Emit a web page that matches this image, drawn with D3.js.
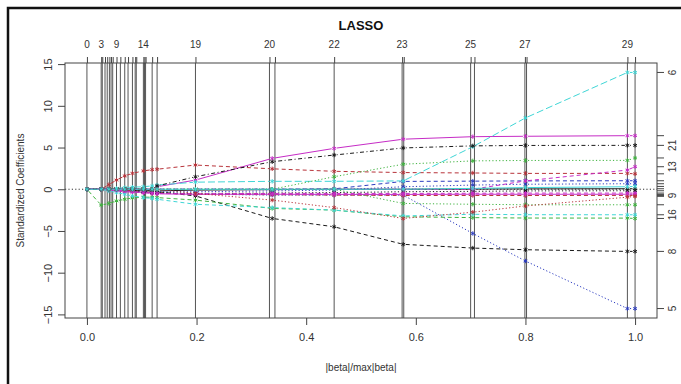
<!DOCTYPE html>
<html>
<head>
<meta charset="utf-8">
<script src="https://cdn.jsdelivr.net/npm/d3@7"></script>
<style>
  body { margin: 0; background: #fff; }
  svg { display: block; }
  text { font-family: "Liberation Sans", Arial, Helvetica, sans-serif; fill: #333; }
</style>
</head>
<body>
<div id="chart"></div>
<script>
// step positions (|beta|/max|beta|) where the vertical lines are drawn
const breaks = [0, 0.026, 0.028, 0.033, 0.037, 0.041, 0.044, 0.047, 0.054, 0.061, 0.069, 0.075,
  0.083, 0.088, 0.09, 0.103, 0.105, 0.107, 0.119, 0.128, 0.198, 0.333, 0.343, 0.451,
  0.575, 0.578, 0.700, 0.707, 0.799, 0.802, 0.986, 1.0];
const topLabels = ["0", "3", "9", "14", "19", "20", "22", "23", "25", "27", "29"];
const topLabelAt = [0, 0.026, 0.054, 0.103, 0.198, 0.333, 0.451, 0.575, 0.700, 0.799, 0.986];
const xTicks = [0, 0.2, 0.4, 0.6, 0.8, 1.0];
const yTicks = [-15, -10, -5, 0, 5, 10, 15];

// x positions where the coefficient values below are read
const knots = [0, 0.026, 0.04, 0.054, 0.069, 0.083, 0.103, 0.119, 0.128, 0.198, 0.338, 0.451, 0.577, 0.704, 0.8, 0.986, 1.0];

// standardized coefficient paths, one array per variable
const coef6  = [0, 0, 0, 0.1, 0.2, 0.25, 0.3, 0.4, 0.5, 0.85, 0.95, 0.95, 1.0, 5.1, 8.55, 14.0, 14.0];
const coef2  = [0, 0, 0, 0, 0, 0, 0, 0, 0.3, 1.1, 3.7, 4.9, 6.0, 6.3, 6.35, 6.42, 6.42];
const coef21 = [0, 0, 0, 0, 0, 0, 0, 0, 0.4, 1.5, 3.3, 4.1, 4.95, 5.2, 5.25, 5.26, 5.26];
const coef17 = [0, 0, 0, 0, 0, 0, 0, 0, 0, 0, 0, 1.5, 3.0, 3.4, 3.45, 3.46, 3.75];
const coef13 = [0, 0, 0, 0, 0, 0, 0, 0, 0, 0, 0, 0, 0, 0, 1.0, 2.3, 2.7];
const coef1  = [0, 0, 0.55, 1.1, 1.6, 1.9, 2.2, 2.35, 2.4, 2.9, 2.45, 2.15, 2.0, 1.95, 1.9, 1.9, 1.85];
const coef4  = [0, 0, 0, 0, 0, 0, 0, 0, 0, 0, 0, 0.05, 0.94, 0.97, 1.0, 1.02, 1.02];
const coef24 = [0, 0, 0, 0, 0, 0, 0, 0, 0, 0, 0, 0, 0, 0.1, 0.2, 0.3, 0.34];
const coef10 = [0, 0, 0, -0.1, -0.2, -0.25, -0.3, -0.3, -0.3, -0.3, -0.2, -0.1, 0.3, 0.5, 0.6, 0.66, 0.66];
const coef7  = [0, 0, 0, 0, -0.1, -0.15, -0.2, -0.2, -0.2, -0.1, -0.05, 0, 0, 0.02, 0.04, 0.06, 0.06];
const coef12 = [0, 0, 0, 0, 0, -0.1, -0.3, -0.4, -0.4, -0.5, -0.45, -0.4, -0.3, -0.25, -0.2, -0.18, -0.18];
const coef15 = [0, 0, -0.1, -0.2, -0.3, -0.35, -0.4, -0.45, -0.5, -0.55, -0.5, -0.5, -0.5, -0.48, -0.46, -0.46, -0.46];
const coef9  = [0, 0, 0, 0, -0.1, -0.2, -0.3, -0.4, -0.45, -0.6, -0.65, -0.7, -0.75, -0.75, -0.75, -0.74, -0.74];
const coef19 = [0, 0, 0, -0.1, -0.2, -0.3, -0.4, -0.5, -0.55, -0.6, -0.6, -0.62, -0.62, -0.6, -0.6, -0.6, -0.62];
const coef20 = [0, 0, 0, 0, 0, 0, 0, 0, 0, -0.5, -1.3, -2.2, -3.5, -2.75, -2.0, -0.95, -0.85];
const coef14 = [0, 0, 0, 0, 0, 0, 0, 0, 0, 0, 0, 0, -1.7, -1.8, -1.86, -1.86, -1.86];
const coef16 = [0, 0, -0.2, -0.4, -0.6, -0.8, -1.0, -1.1, -1.2, -1.8, -2.2, -2.5, -3.2, -3.0, -3.05, -3.06, -3.06];
const coef11 = [0, -1.9, -1.7, -1.4, -1.2, -1.05, -0.95, -0.95, -1.0, -1.3, -2.3, -2.5, -3.3, -3.4, -3.45, -3.46, -3.5];
const coef8  = [0, 0, 0, 0, 0, 0, 0, -0.2, -0.3, -0.8, -3.5, -4.5, -6.6, -7.05, -7.25, -7.45, -7.45];
const coef5  = [0, 0, 0, 0, 0, 0, -0.2, -0.3, -0.4, -0.6, -0.7, -0.7, -0.7, -5.3, -8.6, -14.3, -14.3];

const varIds = ["1", "2", "4", "5", "6", "7", "8", "9", "10", "11", "12", "13", "14", "15", "16", "17", "19", "20", "21", "24"];
const varCoefs = [coef1, coef2, coef4, coef5, coef6, coef7, coef8, coef9, coef10, coef11, coef12, coef13, coef14, coef15, coef16, coef17, coef19, coef20, coef21, coef24];
const rightLabels = ["6", "21", "13", "9", "16", "8", "5"];

// line looks (R palette colours, lty)
const palette = { black: "#1a1a1a", red: "#b8333a", green: "#3fb33f", blue: "#2c3cc0", cyan: "#3fd6d6", magenta: "#c62cc6" };
const dashes = { solid: null, dashed: "4,3", dotted: "1.2,2.2", dotdash: "1,2.5,4,2.5", longdash: "7,3" };
const looks = {
  "6": ["cyan", "longdash"], "2": ["magenta", "solid"], "21": ["black", "dotdash"], "17": ["green", "dotted"],
  "13": ["magenta", "dashed"], "1": ["red", "dashed"], "4": ["blue", "dashed"], "24": ["cyan", "solid"],
  "10": ["blue", "dotted"], "7": ["black", "solid"], "12": ["black", "dotted"], "15": ["magenta", "dashed"],
  "9": ["red", "dashed"], "19": ["magenta", "solid"], "20": ["red", "dotted"], "14": ["green", "dotted"],
  "16": ["cyan", "dashed"], "11": ["green", "dashed"], "8": ["black", "dashed"], "5": ["blue", "dotted"]
};

const width = 681, height = 384;
const box = { left: 65, right: 657, top: 63, bottom: 318 };

const svg = d3.select("#chart").append("svg")
  .attr("width", width)
  .attr("height", height);

// outer frame (only top/left visible in the picture)
svg.append("rect")
  .attr("x", 8).attr("y", 8)
  .attr("width", 700).attr("height", 400)
  .attr("fill", "none").attr("stroke", "#111").attr("stroke-width", 2.5);

// R style 4% extension of the data ranges
const allVals = varCoefs.flat();
const yExt = d3.extent(allVals);
const yPad = (yExt[1] - yExt[0]) * 0.04;
const x = d3.scaleLinear().domain([-0.04, 1.04]).range([box.left, box.right]);
const y = d3.scaleLinear().domain([yExt[0] - yPad, yExt[1] + yPad]).range([box.bottom, box.top]);

// vertical lines at each step
svg.append("g")
  .selectAll("line")
  .data(breaks)
  .enter()
  .append("line")
  .attr("x1", d => x(d)).attr("x2", d => x(d))
  .attr("y1", box.top).attr("y2", box.bottom)
  .attr("stroke", "#555")
  .attr("stroke-width", 1);

// zero line
svg.append("line")
  .attr("x1", box.left).attr("x2", box.right)
  .attr("y1", y(0)).attr("y2", y(0))
  .attr("stroke", "#333")
  .attr("stroke-dasharray", "1.2,2.2");

// coefficient paths, type = "b": lines with gaps around the points
const gap = 2.5;
const star = r => {
  let p = "";
  [90, 30, 150].forEach(a => {
    const dx = r * Math.cos(a * Math.PI / 180), dy = r * Math.sin(a * Math.PI / 180);
    p += `M${-dx},${-dy}L${dx},${dy}`;
  });
  return p;
};

const paths = svg.append("g");
varIds.forEach((id, i) => {
  const [col, lty] = looks[id];
  const pts = knots.map((k, j) => [x(k), y(varCoefs[i][j])]);
  const segs = d3.pairs(pts).map(([a, b]) => {
    const dx = b[0] - a[0], dy = b[1] - a[1];
    const len = Math.hypot(dx, dy);
    if (len <= 2 * gap + 0.5) return null;
    const ux = dx / len, uy = dy / len;
    return [[a[0] + ux * gap, a[1] + uy * gap], [b[0] - ux * gap, b[1] - uy * gap]];
  }).filter(Boolean);

  const g = paths.append("g");
  g.selectAll("line")
    .data(segs)
    .enter()
    .append("line")
    .attr("x1", d => d[0][0]).attr("y1", d => d[0][1])
    .attr("x2", d => d[1][0]).attr("y2", d => d[1][1])
    .attr("stroke", palette[col])
    .attr("stroke-width", 1)
    .attr("stroke-dasharray", dashes[lty]);

  g.selectAll("path")
    .data(pts)
    .enter()
    .append("path")
    .attr("d", star(2.2))
    .attr("transform", d => `translate(${d[0]},${d[1]})`)
    .attr("stroke", palette[col])
    .attr("stroke-width", 1)
    .attr("fill", "none");
});

// plot box
svg.append("rect")
  .attr("x", box.left).attr("y", box.top)
  .attr("width", box.right - box.left).attr("height", box.bottom - box.top)
  .attr("fill", "none").attr("stroke", "#444").attr("stroke-width", 1);

// bottom axis
const axB = svg.append("g")
  .attr("transform", `translate(0,${box.bottom})`)
  .call(d3.axisBottom(x).tickValues(xTicks).tickFormat(d3.format(".1f")).tickSize(7).tickPadding(8));
axB.select(".domain").remove();
axB.selectAll("line").attr("stroke", "#444");
axB.selectAll("text").attr("font-size", 11).attr("fill", "#333").attr("font-family", null);

// left axis, labels parallel to the axis
const axL = svg.append("g")
  .attr("transform", `translate(${box.left},0)`)
  .call(d3.axisLeft(y).tickValues(yTicks).tickSize(7));
axL.select(".domain").remove();
axL.selectAll("line").attr("stroke", "#444");
axL.selectAll("text")
  .attr("x", 0).attr("y", -17).attr("dy", null)
  .attr("transform", "rotate(-90)")
  .attr("text-anchor", "middle")
  .attr("dominant-baseline", "central")
  .attr("font-size", 11).attr("fill", "#333").attr("font-family", null);

// top axis: ticks at every step, labels where they fit
const axT = svg.append("g")
  .attr("transform", `translate(0,${box.top})`)
  .call(d3.axisTop(x).tickValues(breaks).tickFormat("").tickSize(6));
axT.select(".domain").remove();
axT.selectAll("line").attr("stroke", "#444");
svg.append("g")
  .selectAll("text")
  .data(topLabels)
  .enter()
  .append("text")
  .attr("x", (d, i) => x(topLabelAt[i]))
  .attr("y", 48)
  .attr("text-anchor", "middle")
  .attr("font-size", 10)
  .text(d => d);

// right axis: ticks at final coefficients
const finals = varCoefs.map(c => c[c.length - 1]);
const axR = svg.append("g")
  .attr("transform", `translate(${box.right},0)`);
axR.selectAll("line")
  .data(finals)
  .enter()
  .append("line")
  .attr("x1", 0).attr("x2", 7)
  .attr("y1", d => y(d)).attr("y2", d => y(d))
  .attr("stroke", "#444");
axR.selectAll("text")
  .data(rightLabels)
  .enter()
  .append("text")
  .attr("transform", d => `translate(15,${y(finals[varIds.indexOf(d)])}) rotate(-90)`)
  .attr("text-anchor", "middle")
  .attr("dominant-baseline", "central")
  .attr("font-size", 10)
  .text(d => d);

// titles
svg.append("text")
  .attr("x", (box.left + box.right) / 2).attr("y", 30)
  .attr("text-anchor", "middle")
  .attr("font-size", 13).attr("font-weight", "bold")
  .style("fill", "#111")
  .text("LASSO");

svg.append("text")
  .attr("x", (box.left + box.right) / 2).attr("y", 371)
  .attr("text-anchor", "middle")
  .attr("font-size", 10)
  .text("|beta|/max|beta|");

svg.append("text")
  .attr("transform", `translate(20,${(box.top + box.bottom) / 2}) rotate(-90)`)
  .attr("text-anchor", "middle")
  .attr("dominant-baseline", "central")
  .attr("font-size", 10)
  .text("Standardized Coefficients");
</script>
</body>
</html>
